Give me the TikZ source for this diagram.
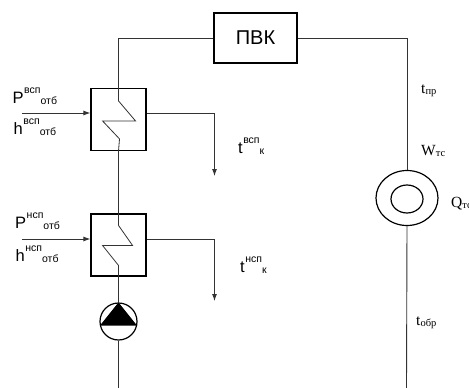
\documentclass[tikz,border=0pt]{standalone}
\usepackage{fontspec}
\setmainfont{Liberation Sans}
\newfontfamily\serifcyr{Liberation Serif}
\usetikzlibrary{arrows.meta,shapes.geometric}
\newcommand\sanslab[3]{\fontsize{16.5}{17}\selectfont #1\kern.5pt\raisebox{9.5pt}{\fontsize{10.5}{11}\selectfont #2}\raisebox{-1pt}{\fontsize{10.5}{11}\selectfont #3}}
\newcommand\seriflab[2]{\serifcyr\fontsize{15.5}{16}\selectfont #1\raisebox{-1.5pt}{\fontsize{10.5}{11}\selectfont #2}}
\tikzset{
  pipe/.style={line width=.9pt,draw=black!80},
  box/.style={draw=black,line width=1.2pt,fill=none,inner sep=0pt,minimum width=55pt,minimum height=62pt},
  flow/.style={pipe,-{Latex[length=7pt,width=5pt]}},
  coil/.style={line width=.8pt,draw=black!80},
  lab/.style={anchor=base west,inner sep=0pt}
}
\begin{document}
\begin{tikzpicture}[x=1pt,y=-1pt]
\useasboundingbox (0,0) rectangle (469,388);
\fill[white] (0,0) rectangle (469,388);
% main blocks
\node[draw=black,line width=1.2pt,inner sep=0pt,minimum width=83pt,minimum height=50pt] (pvk) at (255.5,38) {\fontsize{20}{21}\selectfont ПВК};
\node[box] (h1) at (118.5,119.5) {};
\node[box] (h2) at (118.5,245) {};
\node[circle,draw=black,line width=1.2pt,minimum size=37pt,inner sep=0pt] (pump) at (118.5,321.5) {};
\node[ellipse,draw=black,line width=1.2pt,minimum width=62pt,minimum height=55pt,inner sep=0pt] (ring) at (407,198) {};
\node[ellipse,draw=black,line width=1.2pt,minimum width=32pt,minimum height=28pt,inner sep=0pt] (ringin) at (407,199) {};
% free ends
\coordinate (bl) at (118.5,388);
\coordinate (br) at (406.5,388);
\coordinate (in1) at (22,113);
\coordinate (in2) at (22,239);
\coordinate (out1) at (214.5,176);
\coordinate (out2) at (214.5,301);
% pipes
\draw[pipe] (pvk.west) -| (h1.north);
\draw[pipe] (pvk.east) -| (ring.north);
\draw[pipe] (ring.south) -- (br);
\draw[pipe] (h1.south) -- (h2.north);
\draw[pipe] (h2.south) -- (pump.north);
\draw[pipe] (pump.south) -- (bl);
\draw[flow] (in1) -- (in1 -| h1.west);
\draw[flow] (in2) -- (in2 -| h2.west);
\draw[flow] (in1 -| h1.east) -| (out1);
\draw[flow] (in2 -| h2.east) -| (out2);
% coils
\draw[coil] (h1.north) -- ++(0,13) -- ++(17,20) -- ++(-33,0) -- ++(17,18) -- (h1.south);
\draw[coil] (h2.north) -- ++(0,12) -- ++(14,20) -- ++(-30,0) -- ++(16,20) -- (h2.south);
% pump triangle
\fill[black] (pump.north) -- (137,325.5) -- (100,325.5) -- cycle;
% labels
\node[lab] (p1) at (12.5,103) {\sanslab{P}{всп}{отб}};
\node[lab] (hh1) at (13.5,134) {\sanslab{h}{всп}{отб}};
\node[lab] (p2) at (15,228) {\sanslab{P}{нсп}{отб}};
\node[lab] (hh2) at (15.5,261) {\sanslab{h}{нсп}{отб}};
\node[lab] (t1) at (238,153) {\sanslab{t}{всп}{к}};
\node[lab] (t2) at (240,272) {\sanslab{t}{нсп}{к}};
\node[lab] (tp) at (421,93) {\seriflab{t}{пр}};
\node[lab] (wt) at (421,155) {\seriflab{W}{тс}};
\node[lab] (qt) at (451,207) {\seriflab{Q}{тс}};
\node[lab] (to) at (416,325) {\seriflab{t}{обр}};
\end{tikzpicture}
\end{document}
